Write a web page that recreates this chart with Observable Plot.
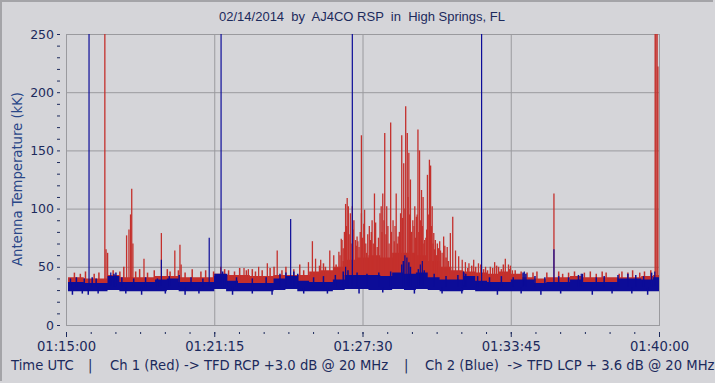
<!DOCTYPE html>
<html>
<head>
<meta charset="utf-8">
<script src="https://cdn.jsdelivr.net/npm/d3@7"></script>
<script src="https://cdn.jsdelivr.net/npm/@observablehq/plot@0.6"></script>
<style>
  html, body { margin: 0; padding: 0; }
  body { width: 715px; height: 383px; background: #d5d5d9; position: relative; overflow: hidden; font-family: "DejaVu Sans", sans-serif; }
  #frame { position: absolute; left: 0; top: 0; width: 713px; height: 381px; border-top: 2px solid #a4a4a8; border-left: 2px solid #a4a4a8; box-sizing: border-box; pointer-events: none; }
  #chart { position: absolute; left: 0; top: 0; }
  .t { position: absolute; white-space: pre; color: #1c2a5c; font-size: 13.2px; line-height: 16px; }
  #title { font-family: "Liberation Sans", Arial, sans-serif; font-size: 13px; left: 0; width: 724px; text-align: center; top: 9px; }
  #ylab { left: 18px; top: 179px; transform: translate(-50%, -50%) rotate(-90deg); color: #2a4788; }
</style>
</head>
<body>
<div id="chart"></div>
<div id="title" class="t">02/14/2014  by  AJ4CO RSP  in  High Springs, FL</div>
<div id="ylab" class="t">Antenna Temperature (kK)</div>
<div class="t" style="left:11px; top:358px;">Time UTC</div>
<div class="t" style="left:88px; top:358px;">|</div>
<div class="t" style="left:110px; top:358px;">Ch 1 (Red) -&gt; TFD RCP +3.0 dB @ 20 MHz</div>
<div class="t" style="left:404px; top:358px;">|</div>
<div class="t" style="left:425px; top:358px;">Ch 2 (Blue)  -&gt; TFD LCP + 3.6 dB @ 20 MHz</div>
<div id="frame"></div>
<script>
// ---- axis ticks ----
const xTickValues = [0, 375, 750, 1125, 1500];             // seconds after 01:15:00 UTC
const xTickLabels = ["01:15:00", "01:21:15", "01:27:30", "01:33:45", "01:40:00"];
const yTickValues = [0, 50, 100, 150, 200, 250];

// ---- noise band (seconds after 01:15:00, antenna temperature kK) ----
const bandT  = [5, 30, 60, 90, 120, 150, 180, 210, 240, 270, 300, 330, 360, 390, 420, 450, 480, 510, 540, 570,
                600, 630, 660, 690, 720, 750, 780, 810, 840, 870, 900, 930, 960, 990, 1020, 1050, 1080, 1110, 1140, 1170,
                1200, 1230, 1260, 1290, 1320, 1350, 1380, 1410, 1440, 1470, 1500];
const redLo  = [34, 34, 34, 34, 33, 34, 34, 34, 34, 34, 34, 34, 34, 36, 35, 34, 34, 34, 34, 34,
                34, 36, 36, 37, 39, 39, 40, 40, 40, 40, 40, 39, 38, 37, 36, 36, 35, 36, 35, 34,
                33, 34, 34, 34, 34, 34, 34, 34, 34, 34, 34];
const redHi  = [41, 41, 40, 40, 43, 41, 41, 41, 42, 42, 41, 41, 41, 44, 43, 43, 42, 42, 43, 43,
                43, 46, 47, 50, 56, 58, 60, 58, 62, 62, 60, 55, 50, 47, 46, 45, 44, 46, 44, 41,
                40, 41, 41, 42, 41, 41, 41, 41, 41, 42, 43];
const blueLo = [29, 29, 29, 29, 30, 29, 29, 29, 29, 30, 29, 29, 29, 31, 29, 29, 29, 29, 30, 31,
                29, 29, 29, 30, 31, 31, 30, 30, 31, 30, 31, 30, 29, 29, 30, 29, 29, 29, 29, 29,
                29, 29, 29, 29, 29, 29, 29, 29, 29, 29, 29];
const blueHi = [37, 37, 36, 36, 42, 37, 37, 37, 39, 40, 37, 37, 37, 44, 38, 36, 36, 36, 40, 42,
                38, 37, 37, 39, 43, 43, 43, 42, 45, 44, 45, 41, 39, 39, 42, 38, 37, 37, 39, 39,
                36, 37, 37, 39, 37, 37, 37, 40, 40, 39, 41];

// ---- red spikes (seconds after 01:15:00, peak kK) ----
const redSpikeT = [97, 100, 104, 152, 158, 162, 165, 168, 196, 240, 274, 287, 290, 390, 449, 460, 486, 508, 533,
                   612, 622, 630, 643, 666, 676, 689, 695, 697, 706, 710, 713, 718, 723, 727, 731, 735, 740, 746, 746,
                   752, 754, 759, 769, 773, 779, 786, 793, 796, 800, 805, 810, 813, 820, 826, 834, 839, 845, 848, 853,
                   858, 862, 866, 870, 876, 881, 885, 889, 893, 898, 902, 906, 911, 913, 918, 921, 925, 929, 933, 938,
                   946, 954, 963, 971, 977, 984, 992, 1001, 1009, 1018, 1030, 1042, 1060, 1072, 1083, 1093, 1110, 1118,
                   1123, 1128, 1233, 1489, 1491, 1494, 1496,
                   692, 700, 703, 708, 715, 720, 725, 733, 737, 743, 749, 757, 762, 766, 771, 776, 782, 789, 798, 803,
                   808, 816, 822, 829, 831, 837, 842, 850, 856, 864, 868, 873, 879, 883, 887, 891, 895, 900, 904, 909,
                   915, 919, 923, 927, 931, 936, 941, 944, 950, 957];
const redSpikeV = [260, 65, 62, 77, 82, 95, 117, 70, 57, 79, 64, 69, 52, 50, 49, 48, 50, 53, 64,
                   54, 72, 57, 56, 64, 60, 63, 74, 73, 104, 109, 102, 96, 102, 90, 73, 76, 67, 96, 163,
                   87, 99, 62, 73, 90, 113, 67, 96, 102, 113, 165, 102, 85, 174, 90, 113, 76, 96, 163, 139,
                   188, 165, 148, 125, 90, 102, 93, 168, 150, 116, 110, 73, 82, 129, 142, 137, 102, 79, 73, 70,
                   64, 76, 67, 79, 93, 64, 59, 56, 54, 53, 56, 53, 50, 50, 54, 50, 57, 52,
                   51, 47, 113, 260, 260, 260, 222,
                   60, 66, 80, 85, 78, 70, 82, 68, 72, 80, 75, 70, 78, 85, 80, 70, 88, 75, 80, 90,
                   78, 70, 80, 72, 85, 70, 80, 92, 100, 110, 95, 80, 85, 75, 95, 80, 90, 85, 70, 75,
                   95, 110, 85, 70, 65, 60, 66, 72, 62, 68];
// small ripples on top of the red noise floor
const redRippleT = [20, 35, 48, 70, 82, 118, 135, 145, 175, 185, 205, 222, 255, 262, 283, 300, 318, 340, 352, 372,
                    400, 410, 425, 438, 455, 470, 478, 495, 515, 525, 545, 555, 575, 590, 600, 640, 650, 655, 682, 700,
                    960, 966, 1015, 1025, 1035, 1048, 1055, 1065, 1078, 1088, 1100, 1105, 1120, 1135, 1150, 1165, 1180, 1190,
                    1215, 1245, 1255, 1270, 1285, 1310, 1325, 1340, 1355, 1365, 1398, 1405, 1420, 1432, 1450, 1462, 1478];
const redRippleV = [45, 44, 46, 44, 45, 47, 46, 50, 46, 48, 45, 47, 48, 46, 47, 45, 48, 46, 47, 46,
                    48, 47, 46, 49, 47, 48, 46, 47, 49, 50, 47, 50, 48, 52, 47, 51, 53, 50, 52, 55,
                    58, 55, 49, 51, 50, 52, 48, 47, 49, 51, 48, 52, 48, 47, 46, 45, 45, 46,
                    45, 46, 44, 45, 46, 45, 46, 44, 46, 45, 44, 46, 45, 47, 45, 46, 47];

// ---- blue spikes, ripples and dips ----
const blueSpikeT = [57, 112, 240, 361, 391, 567, 706, 723, 856, 861, 895, 900, 1004, 1050, 1158, 1233, 1302, 1488];
const blueSpikeV = [260, 45, 56, 75, 260, 91, 50, 260, 60, 58, 52, 55, 46, 260, 46, 65, 44, 46];
const blueRippleT = [10, 25, 45, 65, 75, 120, 125, 140, 170, 200, 230, 260, 285, 315, 345, 375, 395, 405, 430, 470,
                     505, 540, 555, 575, 585, 625, 650, 680, 700, 712, 735, 760, 790, 820, 848, 852, 866, 870, 890, 905,
                     930, 960, 990, 1005, 1010, 1040, 1070, 1100, 1130, 1155, 1162, 1185, 1210, 1245, 1270, 1295, 1305, 1340,
                     1360, 1395, 1420, 1440, 1460, 1480];
const blueRippleV = [40, 41, 40, 41, 40, 44, 45, 41, 40, 41, 40, 42, 43, 41, 40, 42, 46, 44, 41, 40,
                     41, 44, 45, 46, 44, 41, 42, 43, 46, 47, 45, 44, 45, 46, 52, 55, 54, 50, 48, 47,
                     44, 42, 43, 45, 44, 42, 41, 42, 41, 45, 44, 42, 41, 42, 41, 43, 44, 41,
                     42, 43, 44, 43, 42, 45];
const blueDipT = [15, 40, 55, 80, 150, 190, 250, 300, 335, 420, 470, 520, 600, 660, 740, 800, 880, 950, 1000,
                  1090, 1150, 1200, 1250, 1330, 1380, 1430, 1470];
const blueDipV = [26, 27, 26, 27, 27, 26, 27, 26, 27, 26, 27, 26, 27, 27, 27, 28, 27, 27, 27,
                  26, 27, 26, 27, 26, 27, 27, 26];

const RED = "#c4302c", BLUE = "#0c0c98", GRID = "#9a9a9e", INK = "#1c2a5c";

const band = bandT.map((t, i) => ({t, rl: redLo[i], rh: redHi[i], bl: blueLo[i], bh: blueHi[i]}));
const pairs = (T, V) => T.map((t, i) => ({t, v: V[i]}));
const redSpikes = pairs(redSpikeT, redSpikeV);
const redRipples = pairs(redRippleT, redRippleV);
const blueSpikes = pairs(blueSpikeT, blueSpikeV);
const blueRipples = pairs(blueRippleT, blueRippleV);
const blueDips = pairs(blueDipT, blueDipV);
const xMinor = d3.range(0, 1500.1, 62.5);
const yMinor = d3.range(0, 250.1, 10);

const chart = Plot.plot({
  width: 715, height: 383,
  marginLeft: 66, marginRight: 56, marginTop: 34, marginBottom: 58,
  style: {background: "transparent", fontFamily: "DejaVu Sans, sans-serif", fontSize: "12px", color: INK},
  x: {domain: [0, 1500]},
  y: {domain: [0, 250]},
  marks: [
    Plot.gridY([50, 100, 150, 200], {stroke: GRID, strokeOpacity: 1}),
    Plot.gridX([375, 750, 1125], {stroke: GRID, strokeOpacity: 1}),
    Plot.frame({stroke: GRID}),
    Plot.areaY(band, {x: "t", y1: "rl", y2: "rh", fill: RED, curve: "step", clip: true}),
    Plot.ruleX(redRipples, {x: "t", y1: 38, y2: "v", stroke: RED, strokeWidth: 1.5, clip: true}),
    Plot.ruleX(redSpikes, {x: "t", y1: 39, y2: "v", stroke: RED, strokeWidth: 1.3, clip: true}),
    Plot.areaY(band, {x: "t", y1: "bl", y2: "bh", fill: BLUE, curve: "step", clip: true}),
    Plot.ruleX(blueRipples, {x: "t", y1: 33, y2: "v", stroke: BLUE, strokeWidth: 1.5, clip: true}),
    Plot.ruleX(blueDips, {x: "t", y1: 32, y2: "v", stroke: BLUE, strokeWidth: 1.5, clip: true}),
    Plot.ruleX(blueSpikes, {x: "t", y1: 34, y2: "v", stroke: BLUE, strokeWidth: 1.2, clip: true}),
    Plot.axisY(yTickValues, {tickSize: 0, tickPadding: 12.5, label: null, fill: INK, fontSize: 12.5}),
    Plot.axisY(yMinor, {tickSize: 3, dx: -6, tickFormat: () => "", label: null, stroke: INK}),
    Plot.axisX(xTickValues, {tickSize: 0, tickPadding: 16, label: null, fill: INK, fontSize: 13.2,
                             tickFormat: (d) => xTickLabels[xTickValues.indexOf(d)]}),
    Plot.axisX(xTickValues, {tickSize: 5, dy: 7, tickFormat: () => "", label: null, stroke: INK}),
    Plot.axisX(xMinor, {tickSize: 2, dy: 7, tickFormat: () => "", label: null, stroke: INK})
  ]
});
document.getElementById("chart").appendChild(chart);
</script>
</body>
</html>
